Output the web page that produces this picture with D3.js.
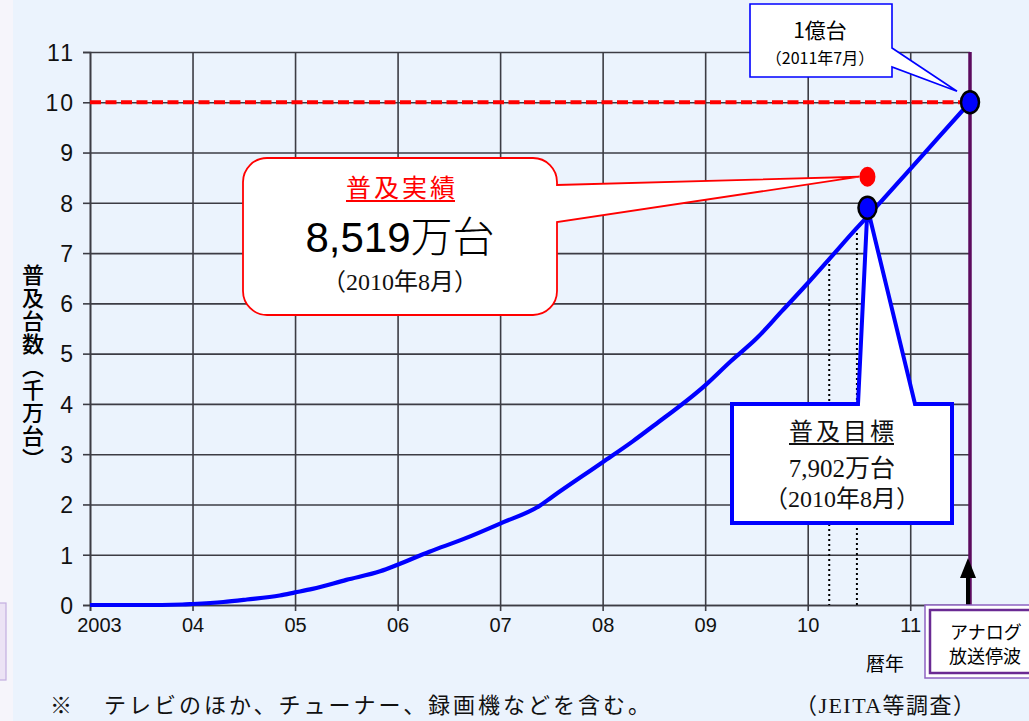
<!DOCTYPE html>
<html lang="ja">
<head>
<meta charset="utf-8">
<script src="https://cdn.jsdelivr.net/npm/d3@7"></script>
<style>
  html, body { margin: 0; padding: 0; background: #fff; }
  svg { display: block; }
  .sans { font-family: "Liberation Sans", Arial, "Noto Sans CJK JP", sans-serif; }
  .jp { font-family: "Noto Sans CJK JP", sans-serif; }
  .serif { font-family: "Liberation Serif", "DejaVu Serif", "Noto Sans CJK JP", serif; }
</style>
</head>
<body>
<svg id="chart" width="1029" height="721"></svg>
<script>
// Years on the horizontal axis and their labels
const years = [2003, 2004, 2005, 2006, 2007, 2008, 2009, 2010, 2011];
const yearLabels = ["2003", "04", "05", "06", "07", "08", "09", "10", "11"];
// Units of 10 million sets
const valueTicks = [0, 1, 2, 3, 4, 5, 6, 7, 8, 9, 10, 11];

// Cumulative installed digital receivers (千万台), by decimal year
const curveYears  = [2003.0, 2003.5, 2003.9, 2004.0, 2004.3, 2004.53, 2004.85, 2005.0, 2005.17, 2005.5,
                     2005.83, 2006.0, 2006.31, 2006.64, 2007.0, 2007.39, 2007.5, 2008.0, 2008.29, 2008.5,
                     2009.0, 2009.25, 2009.5, 2009.75, 2010.0, 2010.21, 2010.48, 2010.58, 2011.0, 2011.28, 2011.583];
const curveValues = [0, 0, 0.01, 0.02, 0.06, 0.11, 0.19, 0.25, 0.32, 0.5,
                     0.67, 0.8, 1.06, 1.31, 1.62, 1.98, 2.14, 2.84, 3.25, 3.57,
                     4.37, 4.85, 5.3, 5.85, 6.4, 6.88, 7.5, 7.72, 8.67, 9.31, 10.0];

// Reference markers
const targetYear = 2010.583, targetValue = 7.902;   // 普及目標 7,902万台 (2010年8月)
const actualYear = 2010.583, actualValue = 8.519;   // 普及実績 8,519万台 (2010年8月)
const goalYear = 2011.583, goalValue = 10;          // 1億台 (2011年7月)
// Dotted guide lines (year, value on curve)
const guideYears = [2010.21, 2010.48];
const guideValues = [6.88, 7.5];

const svg = d3.select("#chart");

// Page background
svg.append("rect").attr("x", 0).attr("y", 0).attr("width", 1029).attr("height", 721).attr("fill", "#f6f5fb");
svg.append("rect").attr("x", 13).attr("y", 0).attr("width", 1016).attr("height", 721).attr("fill", "#ebf3fd");
svg.append("rect").attr("x", -4).attr("y", 603).attr("width", 10).attr("height", 77)
  .attr("fill", "#ece3f5").attr("stroke", "#c3aee0").attr("stroke-width", 1.2);

const x = d3.scaleLinear().domain([2003, 2011.583]).range([90, 970]);
const y = d3.scaleLinear().domain([0, 11]).range([605, 52]);

const gridColor = "#3c3c44";

// Horizontal grid
const gY = svg.append("g").attr("transform", `translate(${x(2003)},0)`)
  .call(d3.axisLeft(y).tickValues(valueTicks).tickSize(-(x(2011.583) - x(2003))).tickFormat(""));
gY.select(".domain").remove();
gY.selectAll("line").attr("stroke", gridColor).attr("stroke-width", 1.6);

// Vertical grid
const gX = svg.append("g").attr("transform", `translate(0,${y(0)})`)
  .call(d3.axisBottom(x).tickValues(years).tickSize(-(y(0) - y(11))).tickFormat(""));
gX.select(".domain").remove();
gX.selectAll("line").attr("stroke", gridColor).attr("stroke-width", 1.6);

// Y axis with labels
const ay = svg.append("g").attr("transform", `translate(${x(2003)},0)`)
  .call(d3.axisLeft(y).tickValues(valueTicks).tickSize(7).tickPadding(8));
ay.select(".domain").attr("stroke", gridColor).attr("stroke-width", 1.6);
ay.selectAll("line").attr("stroke", gridColor).attr("stroke-width", 1.6);
ay.selectAll("text").attr("class", "sans").attr("font-size", 23).attr("fill", "#111")
  .attr("dy", "0.36em").style("letter-spacing", "2px");

// X axis with labels
const ax = svg.append("g").attr("transform", `translate(0,${y(0)})`)
  .call(d3.axisBottom(x).tickValues(years).tickSize(6).tickPadding(7)
    .tickFormat((d, i) => yearLabels[i]));
ax.select(".domain").attr("stroke", gridColor).attr("stroke-width", 1.6);
ax.selectAll("line").attr("stroke", gridColor).attr("stroke-width", 1.6);
ax.selectAll("text").attr("class", "sans").attr("font-size", 20).attr("fill", "#111")
  .attr("dx", (d, i) => i === 0 ? 9 : 0);

// Red dashed 1億台 line
svg.append("line")
  .attr("x1", x(2003)).attr("x2", x(goalYear)).attr("y1", y(goalValue)).attr("y2", y(goalValue))
  .attr("stroke", "#ff0000").attr("stroke-width", 4).attr("stroke-dasharray", "11,4.5");

// Dotted guide lines
svg.append("g").selectAll("line").data(guideYears).join("line")
  .attr("x1", d => x(d)).attr("x2", d => x(d))
  .attr("y1", (d, i) => y(guideValues[i])).attr("y2", y(0))
  .attr("stroke", "#000").attr("stroke-width", 2).attr("stroke-dasharray", "2,3");

// Growth curve
const pts = curveYears.map((d, i) => [d, curveValues[i]]);
svg.append("path").datum(pts)
  .attr("d", d3.line().x(d => x(d[0])).y(d => y(d[1])).curve(d3.curveMonotoneX))
  .attr("fill", "none").attr("stroke", "#0000ff").attr("stroke-width", 4.2).attr("stroke-linejoin", "round");

// Analog shutdown line
svg.append("line")
  .attr("x1", x(goalYear)).attr("x2", x(goalYear)).attr("y1", y(11)).attr("y2", y(0))
  .attr("stroke", "#5c0a5e").attr("stroke-width", 3.5);

// Arrow pointing up to the shutdown date
const ax0 = x(goalYear) - 2;
svg.append("line").attr("x1", ax0).attr("x2", ax0).attr("y1", y(0) + 4).attr("y2", 574)
  .attr("stroke", "#000").attr("stroke-width", 4);
svg.append("path").attr("d", `M${ax0},558 L${ax0 - 8},578 L${ax0 + 8},578 Z`).attr("fill", "#000");

// Bottom-right label box
svg.append("rect").attr("x", 925).attr("y", 605).attr("width", 120).attr("height", 73)
  .attr("fill", "#fff").attr("stroke", "#8f63c2").attr("stroke-width", 1.5);
svg.append("rect").attr("x", 930).attr("y", 610).attr("width", 110).attr("height", 63)
  .attr("fill", "#fff").attr("stroke", "#6a2a93").attr("stroke-width", 2.5);
svg.append("text").attr("class", "jp").attr("x", 950).attr("y", 639).attr("font-size", 18)
  .attr("fill", "#000").text("アナログ");
svg.append("text").attr("class", "jp").attr("x", 949).attr("y", 663).attr("font-size", 18)
  .attr("fill", "#000").text("放送停波");

// Axis titles
svg.append("text").attr("class", "jp").attr("x", 33).attr("y", 264)
  .attr("font-size", 22).attr("font-weight", 500).attr("fill", "#000")
  .style("writing-mode", "vertical-rl").style("letter-spacing", "1px")
  .text("普及台数（千万台）");
svg.append("text").attr("class", "jp").attr("x", 885).attr("y", 671).attr("text-anchor", "middle")
  .attr("font-size", 19).attr("fill", "#000").text("暦年");

// Footnotes
svg.append("text").attr("class", "serif").attr("x", 50).attr("y", 713).attr("font-size", 22)
  .attr("fill", "#111").text("※");
svg.append("text").attr("class", "serif").attr("x", 104).attr("y", 713).attr("font-size", 22)
  .attr("textLength", 546).attr("lengthAdjust", "spacing")
  .attr("fill", "#111").text("テレビのほか、チューナー、録画機などを含む。");
svg.append("text").attr("class", "serif").attr("x", 795).attr("y", 713).attr("font-size", 22)
  .attr("textLength", 180).attr("lengthAdjust", "spacing")
  .attr("fill", "#111").text("（JEITA等調査）");

// Top callout: 1億台
const gxp = x(goalYear), gyp = y(goalValue);
svg.append("path")
  .attr("d", `M750,4 H892 V48 L${gxp - 13},${gyp - 11} L892,67 V77 H750 Z`)
  .attr("fill", "#fff").attr("stroke", "#0000ff").attr("stroke-width", 1.6);
svg.append("text").attr("class", "jp").attr("x", 820).attr("y", 38).attr("text-anchor", "middle")
  .attr("font-size", 21).attr("fill", "#000").text("1億台");
svg.append("text").attr("class", "jp").attr("x", 820).attr("y", 64).attr("text-anchor", "middle")
  .attr("font-size", 16).attr("fill", "#000").text("（2011年7月）");

// Red callout: 普及実績
const axp = x(actualYear), ayp = y(actualValue);
const rx0 = 243, ry0 = 158, rx1 = 557, ry1 = 315, rr = 24;
svg.append("path")
  .attr("d", `M${rx0 + rr},${ry0} H${rx1 - rr} A${rr},${rr} 0 0 1 ${rx1},${ry0 + rr} V185 ` +
             `L${axp - 8},${ayp} L${rx1},222 V${ry1 - rr} A${rr},${rr} 0 0 1 ${rx1 - rr},${ry1} ` +
             `H${rx0 + rr} A${rr},${rr} 0 0 1 ${rx0},${ry1 - rr} V${ry0 + rr} A${rr},${rr} 0 0 1 ${rx0 + rr},${ry0} Z`)
  .attr("fill", "#fff").attr("stroke", "#ff0000").attr("stroke-width", 1.8);

function underlined(text, cx, baseline, size, color, cls) {
  const t = svg.append("text").attr("class", cls).attr("x", cx).attr("y", baseline)
    .attr("text-anchor", "middle").attr("font-size", size).attr("fill", color)
    .style("letter-spacing", "3px").text(text);
  const bb = t.node().getBBox();
  svg.append("line").attr("x1", bb.x).attr("x2", bb.x + bb.width - 3)
    .attr("y1", baseline + 4).attr("y2", baseline + 4).attr("stroke", color).attr("stroke-width", 1.8);
}
underlined("普及実績", 402, 197, 25, "#ff0000", "serif");
const big = svg.append("text").attr("x", 400).attr("y", 252).attr("text-anchor", "middle").attr("fill", "#000");
big.append("tspan").attr("class", "sans").attr("font-size", 42).text("8,519");
big.append("tspan").attr("class", "serif").attr("font-size", 42).style("font-weight", 300).text("万台");
svg.append("text").attr("class", "serif").attr("x", 400).attr("y", 290).attr("text-anchor", "middle")
  .attr("font-size", 24).attr("fill", "#111").text("（2010年8月）");

// Blue callout: 普及目標
const txp = x(targetYear), typ = y(targetValue);
svg.append("path")
  .attr("d", `M732,404 H858 L${txp},${typ} L915,404 H952 V523 H732 Z`)
  .attr("fill", "#fff").attr("stroke", "#0000ff").attr("stroke-width", 4).attr("stroke-linejoin", "miter");
underlined("普及目標", 843, 440, 24, "#111", "serif");
svg.append("text").attr("class", "serif").attr("x", 842).attr("y", 477).attr("text-anchor", "middle")
  .attr("font-size", 25).attr("fill", "#111").text("7,902万台");
svg.append("text").attr("class", "serif").attr("x", 842).attr("y", 507).attr("text-anchor", "middle")
  .attr("font-size", 24).attr("fill", "#111").text("（2010年8月）");

// Markers
svg.append("ellipse").attr("cx", axp).attr("cy", ayp).attr("rx", 8).attr("ry", 10).attr("fill", "#ff0000");
svg.append("ellipse").attr("cx", txp).attr("cy", typ).attr("rx", 9).attr("ry", 11)
  .attr("fill", "#0000ff").attr("stroke", "#000").attr("stroke-width", 2.5);
svg.append("ellipse").attr("cx", gxp).attr("cy", gyp).attr("rx", 9).attr("ry", 11)
  .attr("fill", "#0000ff").attr("stroke", "#000").attr("stroke-width", 2.5);
</script>
</body>
</html>
